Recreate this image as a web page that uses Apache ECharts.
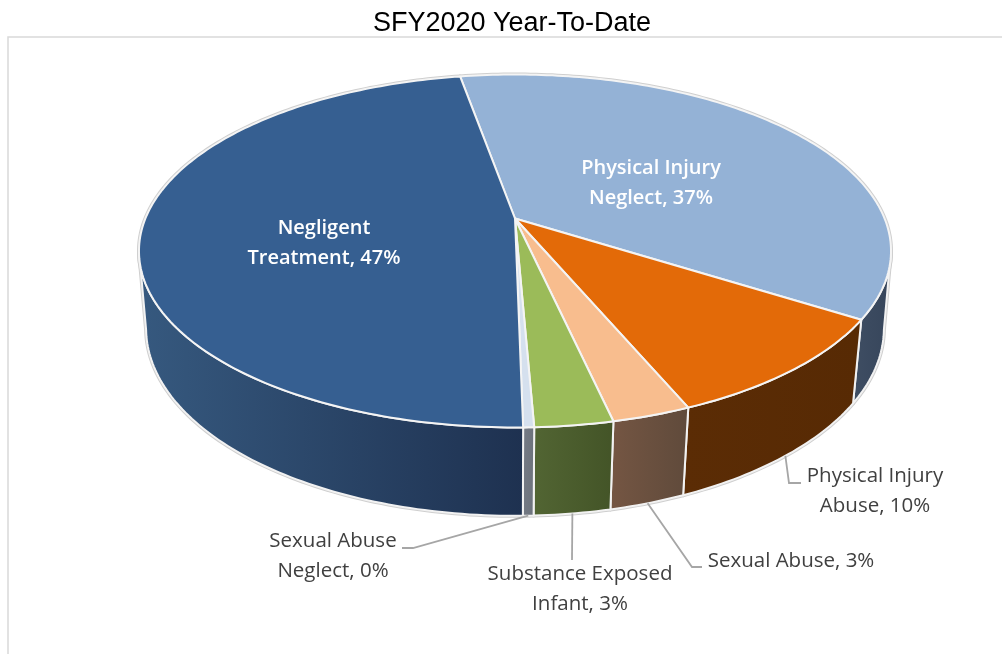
<!DOCTYPE html>
<html><head><meta charset="utf-8">
<style>html,body{margin:0;padding:0;background:#fff}#c{width:1002px;height:654px}</style>
<script src="https://cdn.jsdelivr.net/npm/echarts@6/dist/echarts.min.js"></script>
</head><body><div id="c"></div>
<script>
// Data (clockwise from the first slice)
const categories = ['Physical Injury\nNeglect','Physical Injury\nAbuse','Sexual Abuse','Substance Exposed\nInfant','Sexual Abuse\nNeglect','Negligent\nTreatment'];
const values = [36.8, 9.64, 2.86, 2.83, 0.39, 47.48];
// Styles
const topColors = ['#94b2d6','#e36a08','#f8bd8e','#9bbb59','#d5e0ee','#365f91'];
const wallFrom = ['#3f4e63','#5b2c05','#755643','#526533','#757b85','#36597f'];
const wallTo   = ['#36455b','#572a04','#5f4a3b','#435427','#6c727c','#1e3150'];
const labelColors = ['#fff','#404040','#404040','#404040','#404040','#fff'];
const labelWeights = [600,400,400,400,400,600];
const labelSizes = [20,20.5,20.5,20.5,20.5,20];
const labelAt = [[651,183],[875,491],[791,561],[580,589],[333,556],[324,243]];
const elbows = [null,[[789,483],[801,483]],[[692,567],[702,567]],[[572,560]],[[413,548],[402,548]],null];
// Projection of the disc (top face, bottom face)
const startAngle = -10.1, silhouette = 0.18;
const topFace = {cx:515, cy:218.5, a:369.6, b:170.5, k:-0.184};
const botFace = {cx:515, cy:296, a:363.4, b:182, k:-0.172};
const project = (f, deg) => {
  const t = deg*Math.PI/180, u = Math.sin(t), v = -Math.cos(t), w = 1+f.k*v;
  return [f.cx+f.a*u/w, f.cy+f.b*v/w];
};
const arc = (f, a0, a1) => {
  const pts = [], n = Math.max(2, Math.ceil(Math.abs(a1-a0)));
  for (let i=0;i<=n;i++) pts.push(project(f, a0+(a1-a0)*i/n));
  return pts;
};
const total = values.reduce((a,b)=>a+b,0);
const visLo = Math.acos(-silhouette)*180/Math.PI, visHi = 360-visLo;

function renderItem(params, api){
  const i = params.dataIndex, val = api.value(0);
  let before = 0; for (let j=0;j<i;j++) before += values[j];
  const a0 = startAngle+before/total*360, a1 = a0+val/total*360, mid = (a0+a1)/2;
  const children = [];
  const top = [[topFace.cx,topFace.cy]].concat(arc(topFace,a0,a1));
  const lo = Math.max(a0,visLo), hi = Math.min(a1,visHi);
  if (hi>lo){
    const wall = arc(topFace,lo,hi).concat(arc(botFace,hi,lo));
    children.push({type:'polygon',z2:1,shape:{points:wall},style:{fill:'none',stroke:'#cfcfcf',lineWidth:4,lineJoin:'round'}});
    children.push({type:'polygon',z2:3,shape:{points:wall},style:{
      fill:{type:'linear',x:0,y:0,x2:1,y2:0,colorStops:[{offset:0,color:wallFrom[i]},{offset:1,color:wallTo[i]}]},
      stroke:'#f2f2f2',lineWidth:2,lineJoin:'round'}});
  }
  children.push({type:'polygon',z2:1,shape:{points:top},style:{fill:'none',stroke:'#cfcfcf',lineWidth:4,lineJoin:'round'}});
  children.push({type:'polygon',z2:4,shape:{points:top},style:{fill:topColors[i],stroke:'#f4f4f4',lineWidth:2,lineJoin:'round'}});
  if (elbows[i]){
    children.push({type:'polyline',z2:5,shape:{points:[project(botFace,mid)].concat(elbows[i])},style:{fill:'none',stroke:'#a6a6a6',lineWidth:1.8}});
  }
  const [lx,ly] = labelAt[i];
  children.push({type:'text',z2:6,style:{
    text:categories[i]+', '+Math.round(val/total*100)+'%',x:lx,y:ly,align:'center',verticalAlign:'middle',
    fill:labelColors[i],fontFamily:'Open Sans',fontSize:labelSizes[i],fontWeight:labelWeights[i],lineHeight:30}});
  return {type:'group',children};
}

const chart = echarts.init(document.getElementById('c'),null,{renderer:'canvas'});
chart.setOption({
  animation:false,backgroundColor:'#fff',
  title:{text:'SFY2020 Year-To-Date',left:507,top:5,textAlign:'center',
    textStyle:{fontFamily:'Liberation Sans',fontSize:27,fontWeight:'normal',color:'#000'}},
  graphic:[{type:'rect',silent:true,shape:{x:8,y:37,width:1100,height:700},style:{fill:'none',stroke:'#d9d9d9',lineWidth:1.5}}],
  series:[{type:'custom',coordinateSystem:'none',silent:true,renderItem,data:values.map(v=>[v])}]
});
</script></body></html>
